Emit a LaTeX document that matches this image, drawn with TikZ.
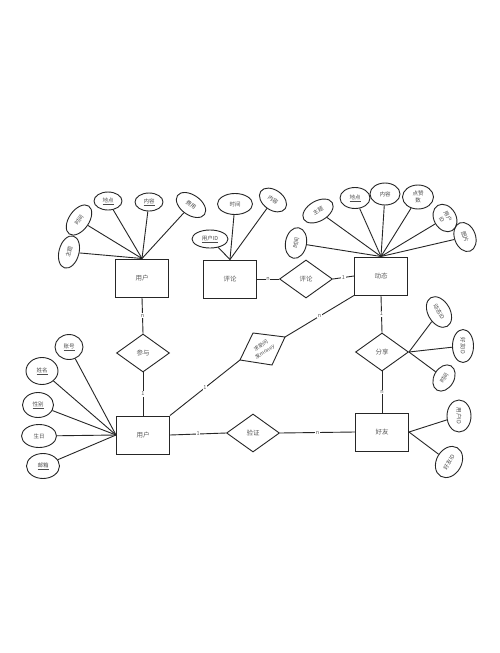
\documentclass[tikz,border=0pt]{standalone}
\usepackage{fontspec}
\setmainfont{Noto Sans CJK SC}
\usetikzlibrary{shapes.geometric}
\tikzset{
  ent/.style={draw=black!85, line width=1pt, minimum width=53pt, minimum height=38pt, inner sep=0pt, font=\fontsize{6.5}{7.5}\selectfont, text=black!65},
  rel/.style={draw=black!85, line width=0.9pt, diamond, aspect=1.4, minimum width=53pt, minimum height=38pt, inner sep=0pt, font=\fontsize{6.5}{7.5}\selectfont, text=black!65},
  attr/.style={draw=black!85, line width=0.9pt, ellipse, inner sep=0pt, minimum width=32pt, minimum height=20pt, font=\fontsize{5.5}{7}\selectfont, text=black!70, align=center},
  con/.style={draw=black!85, line width=0.9pt},
  card/.style={fill=white, inner sep=0.6pt, font=\fontsize{5.5}{6}\selectfont, text=black!65}
}
\begin{document}
\begin{tikzpicture}[x=1pt,y=-1pt]
\useasboundingbox (0,0) rectangle (500,653);
\fill[white] (0,0) rectangle (500,653);

% entities
\node[ent] (u1) at (142,278) {用户};
\node[ent] (pl) at (230,279) {评论};
\node[ent] (dt) at (381,276) {动态};
\node[ent] (u2) at (143,435) {用户};
\node[ent] (hy) at (382,432) {好友};

% relationships
\node[rel] (rpl) at (306,279) {评论};
\node[rel] (cy) at (143,353) {参与};
\node[rel] (yz) at (253,433) {验证};
\node[rel] (fx) at (382,352) {分享};
\coordinate (m1) at (253,333);
\coordinate (m2) at (285,337);
\coordinate (m3) at (272,365);
\coordinate (m4) at (240,360);
\draw[con] (m1) -- (m2) -- (m3) -- (m4) -- cycle;
\node[rotate=33, font=\fontsize{5.2}{7}\selectfont, text=black!70, align=center, inner sep=0pt] (mt) at (263,349) {求助问\\发money};

% attributes of top user
\node[attr, rotate=75, minimum width=33pt] (a1) at (69,252) {主题};
\node[attr, rotate=55, minimum width=34pt] (a2) at (79,220) {时间};
\node[attr, minimum width=28pt, minimum height=18pt] (a3) at (108,201) {\underline{地点}};
\node[attr, minimum width=28pt, minimum height=18pt] (a4) at (149,202) {\underline{内容}};
\node[attr, rotate=-35, minimum width=33pt] (a5) at (191,205) {费用};
\foreach \a in {a1,a2,a3,a4,a5} \draw[con] (\a) -- (u1.north);

% attributes of comment
\node[attr, minimum width=36pt, minimum height=18pt] (b1) at (210,239) {\underline{用户ID}};
\node[attr, minimum width=35pt, minimum height=21pt] (b2) at (235,204) {时间};
\node[attr, rotate=-35, minimum width=30pt, minimum height=20pt] (b3) at (273,200) {内容};
\foreach \a in {b1,b2,b3} \draw[con] (\a) -- (pl.north);

% attributes of dynamic
\node[attr, rotate=80, minimum width=31pt, minimum height=21pt] (c1) at (296,243) {时间};
\node[attr, rotate=30, minimum width=33pt, minimum height=20pt] (c2) at (318,211) {主题};
\node[attr, minimum width=30pt, minimum height=21pt] (c3) at (355,198) {\underline{地点}};
\node[attr, minimum width=30pt, minimum height=22pt] (c4) at (385,194) {内容};
\node[attr, minimum width=31pt, minimum height=24pt] (c5) at (418,197) {点赞\\数};
\node[attr, rotate=-60, minimum width=29pt, minimum height=22pt] (c6) at (445,218) {用户\\ID};
\node[attr, rotate=-70, minimum width=30pt, minimum height=21pt] (c7) at (465,237) {图片};
\foreach \a in {c1,c2,c3,c4,c5,c6,c7} \draw[con] (\a) -- (dt.north);

% attributes of share
\node[attr, rotate=-60, minimum width=33pt, minimum height=22pt] (d1) at (439,312) {动态ID};
\node[attr, rotate=-90, minimum width=33pt, minimum height=21pt] (d2) at (463,346) {好友ID};
\node[attr, rotate=60, minimum width=28pt, minimum height=20pt] (d3) at (444,378) {时间};
\foreach \a in {d1,d2,d3} \draw[con] (\a) -- (fx.east);

% attributes of friend
\node[attr, rotate=-90, minimum width=32pt, minimum height=24pt] (e1) at (459,416) {用户ID};
\node[attr, rotate=60, minimum width=33pt, minimum height=25pt] (e2) at (449,462) {好友ID};
\foreach \a in {e1,e2} \draw[con] (\a) -- (hy.east);

% attributes of bottom user
\node[attr, minimum width=28pt, minimum height=25pt] (f1) at (69,347) {\underline{账号}};
\node[attr, minimum width=32pt, minimum height=27pt] (f2) at (42,371) {\underline{姓名}};
\node[attr, minimum width=31pt, minimum height=25pt] (f3) at (38,405) {\underline{性别}};
\node[attr, minimum width=35pt, minimum height=23pt] (f4) at (39,436) {生日};
\node[attr, minimum width=33pt, minimum height=25pt] (f5) at (43,466) {\underline{邮箱}};
\foreach \a in {f1,f2,f3,f4,f5} \draw[con] (\a) -- (u2.west);

% relationship connectors
\draw[con] (pl.east) -- node[card] {n} (rpl.west);
\draw[con] (rpl.east) -- node[card] {1} (dt.west);
\draw[con] (u1.south) -- node[card] {n} (cy.north);
\draw[con] (cy.south) -- node[card] {1} (u2.north);
\draw[con] (u2.north east) -- node[card, pos=0.5] {1} (m4);
\draw[con] (m2) -- node[card, pos=0.5] {n} (dt.south west);
\draw[con] (u2.east) -- node[card] {1} (yz.west);
\draw[con] (yz.east) -- node[card] {n} (hy.west);
\draw[con] (dt.south) -- node[card] {1} (fx.north);
\draw[con] (fx.south) -- node[card] {n} (hy.north);
\end{tikzpicture}
\end{document}
